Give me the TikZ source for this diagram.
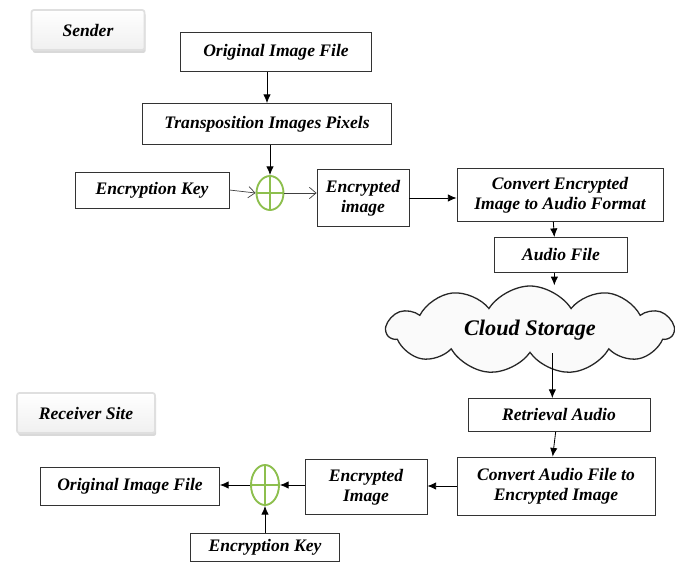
\documentclass[tikz,border=0pt]{standalone}
\usepackage{fontspec}
\setmainfont{Liberation Serif}
\usetikzlibrary{shapes.geometric,shapes.symbols,shadows,arrows.meta}
\definecolor{xorgreen}{RGB}{141,191,78}
\begin{document}
\begin{tikzpicture}[x=0.03cm,y=-0.03cm,
    box/.style={draw=black!80,line width=0.7pt,rectangle,align=center,inner sep=1pt,
      font=\bfseries\itshape\fontsize{15}{17}\selectfont},
    button/.style={rectangle,rounded corners=2pt,draw=gray!25,line width=1.5pt,
      top color=white,bottom color=gray!12,
      drop shadow={opacity=0.3,shadow xshift=1pt,shadow yshift=-2.5pt},
      font=\bfseries\itshape\fontsize{15}{17}\selectfont},
    xor/.style={ellipse,draw=xorgreen,line width=1.6pt,inner sep=0pt},
    arr/.style={line width=0.7pt,-{Latex[length=2.6mm,width=2.2mm]}},
    openarr/.style={line width=0.6pt,black!75,-{Straight Barb[length=2mm,width=3.4mm]}}]
  \useasboundingbox (0,0) rectangle (675,562);
  % sender side
  \node[button,minimum width=3.39cm,minimum height=1.2cm] (sender) at (88,30) {Sender};
  \node[box,minimum width=5.73cm,minimum height=1.17cm] (origT) at (276,52) {Original Image File};
  \node[box,minimum width=7.47cm,minimum height=1.23cm] (trans) at (267,124) {Transposition Images Pixels};
  \node[box,minimum width=4.62cm,minimum height=1.08cm] (keyT) at (152,190) {Encryption Key};
  \node[xor,minimum width=0.81cm,minimum height=1.02cm] (xorT) at (270,193) {};
  \draw[xorgreen,line width=1.6pt] (xorT.north) -- (xorT.south) (xorT.west) -- (xorT.east);
  \node[box,minimum width=2.76cm,minimum height=1.71cm] (encT) at (363,198) {Encrypted\\image};
  \node[box,minimum width=6.18cm,minimum height=1.59cm] (convT) at (560,195) {Convert Encrypted\\Image to Audio Format};
  \node[box,minimum width=3.99cm,minimum height=1.05cm] (audio) at (561,255) {Audio File};
  % cloud
  \node[cloud,draw=black!85,line width=1.1pt,fill=gray!4,cloud puffs=11,cloud puff arc=115,aspect=3.3,
    minimum width=8.6cm,minimum height=2.64cm,
    font=\bfseries\itshape\fontsize{19}{21}\selectfont] (cloud) at (530,330) {Cloud Storage};
  % receiver side
  \node[button,minimum width=4.14cm,minimum height=1.2cm] (receiver) at (86,413) {Receiver Site};
  \node[box,minimum width=5.46cm,minimum height=0.99cm] (retr) at (559,415) {Retrieval Audio};
  \node[box,minimum width=5.94cm,minimum height=1.74cm] (convB) at (556,486) {Convert Audio File to\\Encrypted Image};
  \node[box,minimum width=3.66cm,minimum height=1.65cm] (encB) at (366,487) {Encrypted\\Image};
  \node[xor,minimum width=0.84cm,minimum height=1.2cm] (xorB) at (265,485) {};
  \draw[xorgreen,line width=1.6pt] (xorB.north) -- (xorB.south) (xorB.west) -- (xorB.east);
  \node[box,minimum width=5.37cm,minimum height=1.14cm] (origB) at (130,486) {Original Image File};
  \node[box,minimum width=4.47cm,minimum height=0.84cm] (keyB) at (265,547) {Encryption Key};
  % connectors
  \draw[arr] (trans.north |- origT.south) -- (trans.north);
  \draw[arr] (trans.south -| xorT) -- (xorT.north);
  \draw[openarr] (keyT.east) -- (xorT.west);
  \draw[openarr] (xorT.east) -- (encT.west |- xorT.east);
  \draw[arr] (encT.east) -- (convT.west |- encT.east);
  \draw[arr] ([xshift=-0.2cm]convT.south) -- ([xshift=-0.2cm]audio.north);
  \draw[arr] ([xshift=-0.2cm]audio.south) -- ([xshift=-0.2cm]audio.south |- cloud.north);
  \draw[arr] ([xshift=-0.2cm]retr.north |- cloud.south) -- ([xshift=-0.2cm]retr.north);
  \draw[arr] ([xshift=-0.1cm]retr.south) -- ([xshift=-0.1cm]convB.north);
  \draw[arr] (convB.west) -- (encB.east |- convB.west);
  \draw[arr] (encB.west |- xorB.east) -- (xorB.east);
  \draw[arr] (xorB.west) -- (origB.east |- xorB.west);
  \draw[arr] (keyB.north -| xorB) -- (xorB.south);
\end{tikzpicture}
\end{document}
